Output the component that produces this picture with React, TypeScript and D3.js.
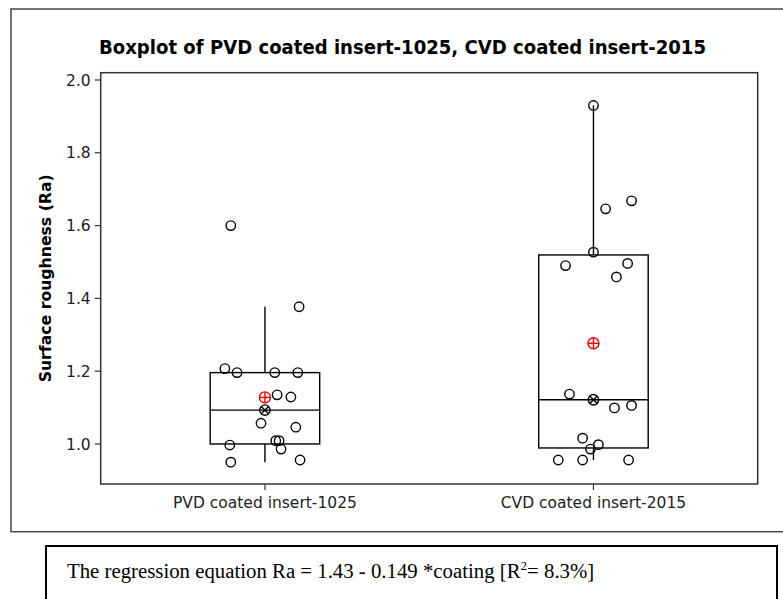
import React from "react";
import * as d3 from "d3";

const categories = ["PVD coated insert-1025", "CVD coated insert-2015"];
const pvdValues = [1.6, 1.377, 1.207, 1.196, 1.196, 1.196, 1.135, 1.129, 1.057, 1.046, 0.997, 1.009, 1.009, 0.986, 0.95, 0.956];
const pvdJitter = [-0.104, 0.104, -0.122, -0.085, 0.03, 0.1, 0.037, 0.079, -0.012, 0.094, -0.107, 0.033, 0.043, 0.049, -0.104, 0.107];
const cvdValues = [1.93, 1.668, 1.646, 1.527, 1.49, 1.496, 1.459, 1.137, 1.099, 1.106, 1.016, 0.998, 0.986, 0.956, 0.956, 0.956];
const cvdJitter = [0, 0.116, 0.037, 0, -0.085, 0.104, 0.07, -0.073, 0.064, 0.116, -0.033, 0.015, -0.009, -0.107, -0.033, 0.107];
const yTicks = [1.0, 1.2, 1.4, 1.6, 1.8, 2.0];
const titleText = "Boxplot of PVD coated insert-1025, CVD coated insert-2015";
const yAxisTitle = "Surface roughness (Ra)";

const W = 783;
const H = 599;
const plot = { left: 100.7, right: 757.7, top: 72.7, bottom: 484 };

function mtbQuantile(sorted: number[], p: number) {
  const n = sorted.length;
  const pos = (n + 1) * p;
  const i = Math.floor(pos);
  const f = pos - i;
  if (i < 1) return sorted[0];
  if (i >= n) return sorted[n - 1];
  return sorted[i - 1] + f * (sorted[i] - sorted[i - 1]);
}

function stats(values: number[]) {
  const s = [...values].sort((a, b) => a - b);
  const q1 = mtbQuantile(s, 0.25);
  const q3 = mtbQuantile(s, 0.75);
  const med = d3.median(s) as number;
  const iqr = q3 - q1;
  const lo = d3.min(s.filter((v) => v >= q1 - 1.5 * iqr)) as number;
  const hi = d3.max(s.filter((v) => v <= q3 + 1.5 * iqr)) as number;
  const mean = d3.mean(s) as number;
  return { q1, q3, med, lo, hi, mean };
}

export default function App() {
  const x = d3.scalePoint<string>().domain(categories).range([plot.left, plot.right]).padding(0.5);
  const y = d3.scaleLinear().domain([0.89, 2.02]).range([plot.bottom, plot.top]);
  const step = x.step();
  const boxW = step / 3;
  const groups = [
    { cat: categories[0], values: pvdValues, jitter: pvdJitter },
    { cat: categories[1], values: cvdValues, jitter: cvdJitter },
  ];
  const r = 4.7;
  const ink = "#000";
  const sw = 1.4;
  const sansFont = "'DejaVu Sans', Verdana, sans-serif";

  return (
    <svg width={W} height={H} style={{ position: "absolute", left: 0, top: 0, background: "#fff" }}>
      <rect x={0} y={0} width={W} height={H} fill="#fff" />
      {/* outer frame */}
      <rect x={11} y={9} width={780} height={522.7} fill="none" stroke="#444" strokeWidth={1.5} />
      {/* title */}
      <text x={99} y={54} fontFamily={sansFont} fontWeight="bold" fontSize={19} textLength={607} lengthAdjust="spacingAndGlyphs" fill="#000">
        {titleText}
      </text>
      {/* plot frame */}
      <rect x={plot.left} y={plot.top} width={plot.right - plot.left} height={plot.bottom - plot.top} fill="none" stroke="#333" strokeWidth={1.5} />
      {/* y ticks */}
      {yTicks.map((t) => (
        <g key={t}>
          <line x1={plot.left - 6} x2={plot.left} y1={y(t)} y2={y(t)} stroke="#333" strokeWidth={1.2} />
          <text x={plot.left - 10} y={y(t)} dy="0.36em" textAnchor="end" fontFamily={sansFont} fontSize={15.5} fill="#222">
            {t.toFixed(1)}
          </text>
        </g>
      ))}
      {/* y axis title */}
      <text
        transform={`translate(51,${(plot.top + plot.bottom) / 2}) rotate(-90)`}
        textAnchor="middle"
        fontFamily={sansFont}
        fontWeight="bold"
        fontSize={15}
        textLength={208}
        lengthAdjust="spacingAndGlyphs"
        fill="#000"
      >
        {yAxisTitle}
      </text>
      {/* x ticks */}
      {categories.map((c) => (
        <g key={c}>
          <line x1={x(c)} x2={x(c)} y1={plot.bottom} y2={plot.bottom + 6} stroke="#333" strokeWidth={1.2} />
          <text x={x(c)} y={508} textAnchor="middle" fontFamily={sansFont} fontSize={15.5} fill="#222">
            {c}
          </text>
        </g>
      ))}
      {/* boxes */}
      {groups.map((g) => {
        const cx = x(g.cat) as number;
        const s = stats(g.values);
        return (
          <g key={g.cat}>
            <line x1={cx} x2={cx} y1={y(s.hi)} y2={y(s.q3)} stroke={ink} strokeWidth={sw} />
            <line x1={cx} x2={cx} y1={y(s.q1)} y2={y(s.lo)} stroke={ink} strokeWidth={sw} />
            <rect x={cx - boxW / 2} y={y(s.q3)} width={boxW} height={y(s.q1) - y(s.q3)} fill="none" stroke={ink} strokeWidth={sw} />
            <line x1={cx - boxW / 2} x2={cx + boxW / 2} y1={y(s.med)} y2={y(s.med)} stroke={ink} strokeWidth={sw} />
            {g.values.map((v, i) => (
              <circle key={i} cx={cx + g.jitter[i] * step} cy={y(v)} r={r} fill="none" stroke={ink} strokeWidth={sw} />
            ))}
            {/* median symbol */}
            <g transform={`translate(${cx},${y(s.med)})`}>
              <circle r={5.2} fill="none" stroke={ink} strokeWidth={sw} />
              <line x1={-3.7} y1={-3.7} x2={3.7} y2={3.7} stroke={ink} strokeWidth={sw} />
              <line x1={-3.7} y1={3.7} x2={3.7} y2={-3.7} stroke={ink} strokeWidth={sw} />
            </g>
            {/* mean symbol */}
            <g transform={`translate(${cx},${y(s.mean)})`}>
              <circle r={5.5} fill="none" stroke="#e00" strokeWidth={sw} />
              <line x1={-5.5} x2={5.5} y1={0} y2={0} stroke="#e00" strokeWidth={sw} />
              <line x1={0} x2={0} y1={-5.5} y2={5.5} stroke="#e00" strokeWidth={sw} />
            </g>
          </g>
        );
      })}
      {/* regression box */}
      <rect x={46} y={546} width={731} height={70} fill="none" stroke="#000" strokeWidth={2} />
      <text x={67} y={578} fontFamily="'Liberation Serif', 'Times New Roman', serif" fontSize={20.8} fill="#000">
        The regression equation Ra = 1.43 - 0.149 *coating [R
        <tspan fontSize={13} dy={-8}>2</tspan>
        <tspan dy={8}>= 8.3%]</tspan>
      </text>
    </svg>
  );
}
